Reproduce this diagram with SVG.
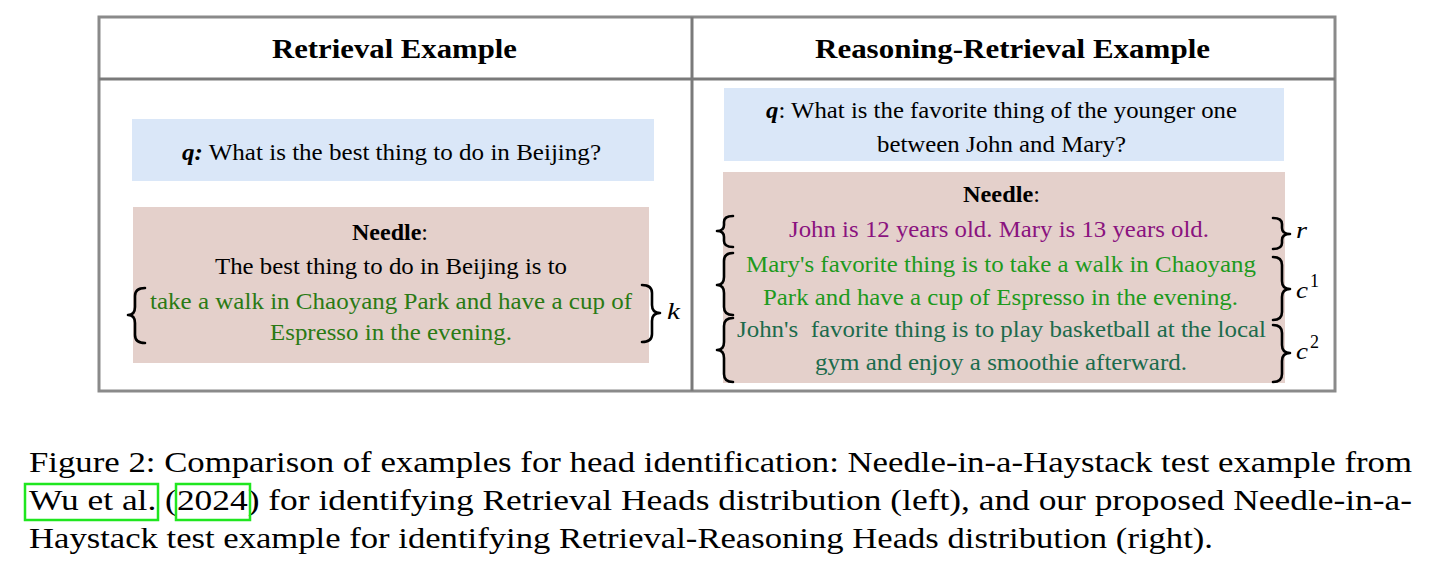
<svg xmlns="http://www.w3.org/2000/svg" width="1432" height="577" viewBox="0 0 1432 577">
<style>
.t{font-family:"Liberation Serif","Times New Roman",serif;fill:#000}
.title{font-size:28px;font-weight:bold}
.body{font-size:23px}
.g1{fill:#2a7a14}
.g2{fill:#1d9a1d}
.g3{fill:#1c6b4c}
.pu{fill:#8a137f}
.m{font-family:"Liberation Serif","Times New Roman",serif;font-style:italic;font-size:24px}
.sup{font-family:"Liberation Serif","Times New Roman",serif;font-size:18px}
.cap{font-size:30px}
.brace{fill:none;stroke:#000;stroke-width:2.6;stroke-linecap:round;stroke-linejoin:round}
.blue{fill:#dae7f8}
.pink{fill:#e4d0cb}
.cite{fill:none;stroke:#1fe61f;stroke-width:2.5}
</style>
<rect width="1432" height="577" fill="#fff"/>
<g id="table">
<rect x="99" y="17" width="1236" height="374" fill="none" stroke="#8a8a8a" stroke-width="3"/>
<line x1="99" y1="79" x2="1335" y2="79" stroke="#7a7a7a" stroke-width="3"/>
<line x1="692" y1="17" x2="692" y2="391" stroke="#7a7a7a" stroke-width="3"/>
<text class="t title" x="272" y="58" textLength="245" lengthAdjust="spacingAndGlyphs">Retrieval Example</text>
<text class="t title" x="815" y="58" textLength="395" lengthAdjust="spacingAndGlyphs">Reasoning-Retrieval Example</text>
</g>
<g id="left-query">
<rect class="blue" x="132" y="119" width="522" height="62"/>
<text class="t body" x="182" y="160" textLength="419" lengthAdjust="spacingAndGlyphs"><tspan font-weight="bold" font-style="italic">q:</tspan> What is the best thing to do in Beijing?</text>
</g>
<g id="left-needle">
<rect class="pink" x="133" y="207" width="516" height="156"/>
<text class="t body" x="352" y="240" textLength="76" lengthAdjust="spacingAndGlyphs"><tspan font-weight="bold">Needle</tspan>:</text>
<text class="t body" x="215" y="274" textLength="352" lengthAdjust="spacingAndGlyphs">The best thing to do in Beijing is to</text>
<text class="t body g1" x="150" y="309" textLength="482" lengthAdjust="spacingAndGlyphs">take a walk in Chaoyang Park and have a cup of</text>
<text class="t body g1" x="270" y="340" textLength="242" lengthAdjust="spacingAndGlyphs">Espresso in the evening.</text>
</g>
<g id="right-query">
<rect class="blue" x="724" y="88" width="560" height="73"/>
<text class="t body" x="766" y="118" textLength="471" lengthAdjust="spacingAndGlyphs"><tspan font-weight="bold" font-style="italic">q</tspan>: What is the favorite thing of the younger one</text>
<text class="t body" x="877" y="152" textLength="249" lengthAdjust="spacingAndGlyphs">between John and Mary?</text>
</g>
<g id="right-needle">
<rect class="pink" x="723" y="172" width="562" height="211"/>
<text class="t body" x="963" y="202" textLength="77" lengthAdjust="spacingAndGlyphs"><tspan font-weight="bold">Needle</tspan>:</text>
<text class="t body pu" x="789" y="237" textLength="420" lengthAdjust="spacingAndGlyphs">John is 12 years old. Mary is 13 years old.</text>
<text class="t body g2" x="746" y="272" textLength="510" lengthAdjust="spacingAndGlyphs">Mary's favorite thing is to take a walk in Chaoyang</text>
<text class="t body g2" x="763" y="305" textLength="475" lengthAdjust="spacingAndGlyphs">Park and have a cup of Espresso in the evening.</text>
<text class="t body g3" x="737" y="337" textLength="529" lengthAdjust="spacingAndGlyphs" xml:space="preserve">John's  favorite thing is to play basketball at the local</text>
<text class="t body g3" x="815" y="370" textLength="372" lengthAdjust="spacingAndGlyphs">gym and enjoy a smoothie afterward.</text>
</g>
<g id="connectors">
<path class="brace" d="M145,288 Q135,288 135,296 L135,307 Q135,315 128,315 Q135,315 135,323 L135,335 Q135,343 145,343"/>
<path class="brace" d="M642,285 Q652,285 652,293 L652,305 Q652,313 660,313 Q652,313 652,321 L652,334 Q652,342 642,342"/>
<path class="brace" d="M733,216 Q724,216 724,222 L724,225 Q724,231 717,231 Q724,231 724,237 L724,241 Q724,247 733,247"/>
<path class="brace" d="M733,253 Q724,253 724,261 L724,277 Q724,285 717,285 Q724,285 724,293 L724,307 Q724,315 733,315"/>
<path class="brace" d="M733,318 Q724,318 724,326 L724,342 Q724,350 717,350 Q724,350 724,358 L724,374 Q724,382 733,382"/>
<path class="brace" d="M1273,218 Q1282,218 1282,224 L1282,228 Q1282,234 1290,234 Q1282,234 1282,240 L1282,243 Q1282,249 1273,249"/>
<path class="brace" d="M1273,257 Q1282,257 1282,265 L1282,281 Q1282,289 1290,289 Q1282,289 1282,297 L1282,312 Q1282,320 1273,320"/>
<path class="brace" d="M1273,325 Q1282,325 1282,333 L1282,345 Q1282,353 1290,353 Q1282,353 1282,361 L1282,374 Q1282,382 1273,382"/>
<text class="m" x="667" y="319" textLength="13" lengthAdjust="spacingAndGlyphs">k</text>
<text class="m" x="1296" y="238" textLength="11" lengthAdjust="spacingAndGlyphs">r</text>
<text class="m" x="1296" y="298" textLength="12" lengthAdjust="spacingAndGlyphs">c</text>
<text class="sup" x="1310" y="287">1</text>
<text class="m" x="1296" y="359" textLength="12" lengthAdjust="spacingAndGlyphs">c</text>
<text class="sup" x="1310" y="348">2</text>
</g>
<g id="caption">
<text class="t cap" x="29" y="472" textLength="1383" lengthAdjust="spacingAndGlyphs">Figure 2: Comparison of examples for head identification: Needle-in-a-Haystack test example from</text>
<text class="t cap" x="29" y="510" textLength="1383" lengthAdjust="spacingAndGlyphs">Wu et al. (2024) for identifying Retrieval Heads distribution (left), and our proposed Needle-in-a-</text>
<text class="t cap" x="29" y="548" textLength="1184" lengthAdjust="spacingAndGlyphs">Haystack test example for identifying Retrieval-Reasoning Heads distribution (right).</text>
<rect class="cite" x="25" y="484" width="133" height="36"/>
<rect class="cite" x="176" y="484" width="74" height="36"/>
</g>
</svg>
